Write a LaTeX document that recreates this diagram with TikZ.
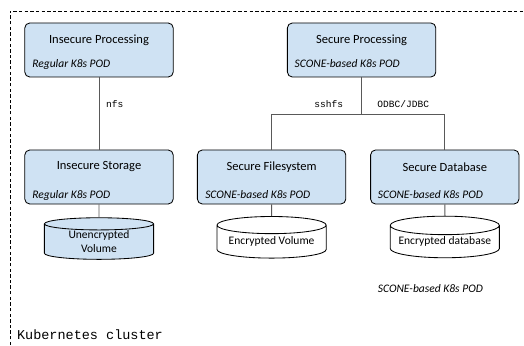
\documentclass[tikz,border=0pt]{standalone}
\usepackage{fontspec}
\setmainfont{Carlito}
\setmonofont{Liberation Mono}
\usepackage{xcolor}
\usetikzlibrary{positioning,shapes.geometric}
\definecolor{podblue}{HTML}{CFE2F3}
\definecolor{linkgray}{HTML}{595959}
\tikzset{
  podbox/.style={draw=black, line width=0.6pt, fill=podblue, rounded corners=3.5pt, minimum width=3.71cm, minimum height=1.35cm, inner sep=0pt},
  podtitle/.style={font=\fontsize{8.9}{11}\selectfont, inner sep=0pt},
  podkind/.style={font=\fontsize{8.2}{10}\selectfont\itshape, inner sep=0pt, anchor=west},
  volume/.style={draw=black, line width=0.6pt, shape=cylinder, shape border rotate=90, shape aspect=0.2, minimum width=2.73cm, minimum height=1.04cm, inner sep=0pt, align=center, font=\fontsize{8.2}{10}\selectfont},
  link/.style={draw=linkgray, line width=0.7pt},
  linklabel/.style={font=\ttfamily\fontsize{6.8}{8}\selectfont, inner sep=0pt}
}

\begin{document}
\begin{tikzpicture}
\useasboundingbox (0,0) rectangle (13.1,8.625);
% cluster border
\draw[dash pattern=on 2.4pt off 1.6pt, line width=0.6pt] (0.25,0) -- (0.25,8.35) -- (13.1,8.35);
\node[font=\ttfamily\fontsize{9.6}{11}\selectfont, inner sep=0pt, anchor=base west] (clustername) at (0.42,0.13) {Kubernetes cluster};
% pods
\node[podbox] (insproc) at (2.475,7.375) {};
\node[podbox] (insstore) at (2.475,4.2) {};
\node[podbox] (secproc) at (9.04,7.375) {};
\node[podbox] (secfs) at (6.79,4.2) {};
\node[podbox] (secdb) at (11.12,4.2) {};
\node[podtitle] (insproctitle) at (2.475,7.625) {Insecure Processing};
\node[podtitle] (insstoretitle) at (2.475,4.45) {Insecure Storage};
\node[podtitle] (secproctitle) at (9.04,7.625) {Secure Processing};
\node[podtitle] (secfstitle) at (6.79,4.45) {Secure Filesystem};
\node[podtitle] (secdbtitle) at (11.12,4.45) {Secure Database};
\node[podkind] (insprockind) at (0.8,7.025) {Regular K8s POD};
\node[podkind] (insstorekind) at (0.8,3.75) {Regular K8s POD};
\node[podkind] (secprockind) at (7.36,7.025) {SCONE-based K8s POD};
\node[podkind] (secfskind) at (5.125,3.75) {SCONE-based K8s POD};
\node[podkind] (secdbkind) at (9.44,3.75) {SCONE-based K8s POD};
% volumes
\node[volume, fill=podblue] (insvol) at (2.475,2.58) {Unencrypted\\Volume};
\node[volume] (secvol) at (6.79,2.58) {Encrypted Volume};
\node[volume] (secdata) at (11.12,2.58) {Encrypted database};
\node[podkind] (freekind) at (9.44,1.4) {SCONE-based K8s POD};
% links
\coordinate (fork) at (9.04,5.775);
\draw[link] (insproc) -- (insstore);
\draw[link] (insstore) -- (insvol.north);
\draw[link] (secproc) -- (fork);
\draw[link] (fork) -| (secfs.north);
\draw[link] (fork) -| (secdb.north);
\draw[link] (secfs) -- (secvol.north);
\draw[link] (secdb) -- (secdata.north);
\node[linklabel] (nfslabel) at (2.87,6.025) {nfs};
\node[linklabel] (sshfslabel) at (8.22,6.025) {sshfs};
\node[linklabel] (odbclabel) at (10.08,6.025) {ODBC/JDBC};
\end{tikzpicture}
\end{document}
